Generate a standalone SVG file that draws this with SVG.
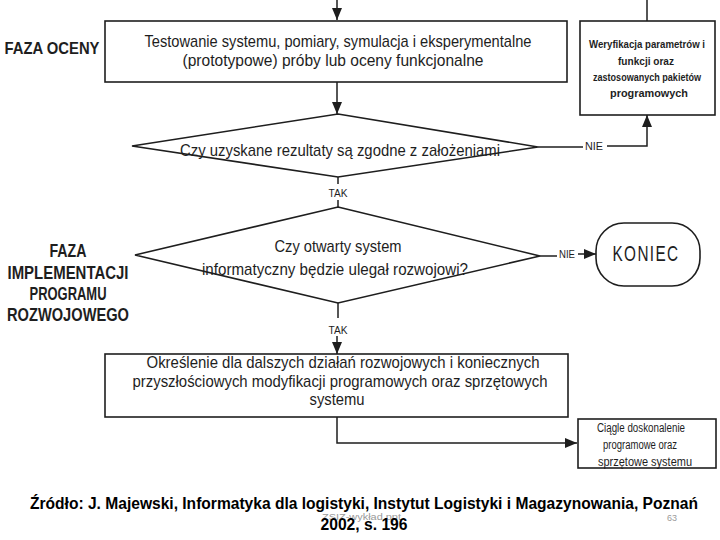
<svg xmlns="http://www.w3.org/2000/svg" width="720" height="540" viewBox="0 0 720 540">
<style>
.bg{fill:#fff}
.box{fill:#fff;stroke:#1e1e1e;stroke-width:1.6}
.ln{fill:none;stroke:#1e1e1e;stroke-width:1.5}
.t{font-family:"Liberation Sans",Arial,sans-serif;fill:#1e1e1e;text-anchor:middle}
.m{font-size:17px}
.s{font-size:11px;font-weight:bold}
.r{font-size:12px}
.l{font-size:11px}
.ph{font-size:18px;font-weight:bold}
.ft{font-family:"Liberation Sans",Arial,sans-serif;font-size:16px;font-weight:bold;fill:#000;text-anchor:middle}
.gr{font-family:"Liberation Sans",Arial,sans-serif;font-size:9px;fill:#9a9a9a}
</style>
<defs>
<marker id="ah" viewBox="0 0 12 10" refX="12" refY="5" markerWidth="12" markerHeight="10" markerUnits="userSpaceOnUse" orient="auto">
<path d="M0,0 L12,5 L0,10 z" fill="#1e1e1e"/>
</marker>
</defs>
<rect class="bg" x="0" y="0" width="720" height="540"/>

<g id="phase-ocena">
<text class="t ph" x="52" y="54" style="font-size:16.5px" textLength="95" lengthAdjust="spacingAndGlyphs">FAZA OCENY</text>
</g>
<g id="phase-impl">
<text class="t ph" x="68" y="257" textLength="37" lengthAdjust="spacingAndGlyphs">FAZA</text>
<text class="t ph" x="68" y="279" textLength="121" lengthAdjust="spacingAndGlyphs">IMPLEMENTACJI</text>
<text class="t ph" x="68" y="300" textLength="77" lengthAdjust="spacingAndGlyphs">PROGRAMU</text>
<text class="t ph" x="68" y="321" textLength="122" lengthAdjust="spacingAndGlyphs">ROZWOJOWEGO</text>
</g>

<g id="connectors">
<path class="ln" d="M337,0 V20" marker-end="url(#ah)"/>
<path class="ln" d="M647,0 V21"/>
<path class="ln" d="M337,82 V114" marker-end="url(#ah)"/>
<path class="ln" d="M338,177 V184"/>
<path class="ln" d="M338,200 V207"/>
<path class="ln" d="M538,147 H583"/>
<path class="ln" d="M607,146 H647 V115" marker-end="url(#ah)"/>
<path class="ln" d="M540,256 H557"/>
<path class="ln" d="M578,254 H596" marker-end="url(#ah)"/>
<path class="ln" d="M338,303 V318"/>
<path class="ln" d="M337,336 V354" marker-end="url(#ah)"/>
<path class="ln" d="M337,417 V443 H577" marker-end="url(#ah)"/>
<text class="t l" x="338" y="197" textLength="19" lengthAdjust="spacingAndGlyphs">TAK</text>
<text class="t l" x="338" y="334" textLength="19" lengthAdjust="spacingAndGlyphs">TAK</text>
<text class="t l" x="594" y="150" textLength="18" lengthAdjust="spacingAndGlyphs">NIE</text>
<text class="t l" x="567" y="258" textLength="16" lengthAdjust="spacingAndGlyphs">NIE</text>
</g>

<g id="test-box">
<rect class="box" x="105" y="21" width="462" height="61"/>
<text class="t m" x="338" y="47" textLength="387" lengthAdjust="spacingAndGlyphs">Testowanie systemu, pomiary, symulacja i eksperymentalne</text>
<text class="t m" x="333" y="66" textLength="301" lengthAdjust="spacingAndGlyphs">(prototypowe) próby lub oceny funkcjonalne</text>
</g>

<g id="verify-box">
<rect class="box" x="580" y="21" width="135" height="94"/>
<text class="t s" x="647" y="48" textLength="116" lengthAdjust="spacingAndGlyphs">Weryfikacja parametrów i</text>
<text class="t s" x="646" y="65" textLength="56" lengthAdjust="spacingAndGlyphs">funkcji oraz</text>
<text class="t s" x="647" y="81" style="font-size:10.5px" textLength="108" lengthAdjust="spacingAndGlyphs">zastosowanych pakietów</text>
<text class="t s" x="649" y="97" textLength="78" lengthAdjust="spacingAndGlyphs">programowych</text>
</g>

<g id="decision-1">
<polygon class="box" points="338,114 538,147 338,177 132,146"/>
<text class="t m" x="340" y="156" textLength="320" lengthAdjust="spacingAndGlyphs">Czy uzyskane rezultaty są zgodne z założeniami</text>
</g>

<g id="decision-2">
<polygon class="box" points="338,207 540,256 338,303 135,255"/>
<text class="t m" x="338" y="252" textLength="127" lengthAdjust="spacingAndGlyphs">Czy otwarty system</text>
<text class="t m" x="335" y="275" textLength="266" lengthAdjust="spacingAndGlyphs">informatyczny będzie ulegał rozwojowi?</text>
</g>

<g id="koniec">
<rect class="box" x="596" y="223" width="104" height="63" rx="28" ry="28"/>
<text class="t" x="646" y="261" style="font-size:22px;letter-spacing:2px" textLength="67" lengthAdjust="spacingAndGlyphs">KONIEC</text>
</g>

<g id="future-box">
<rect class="box" x="105" y="354" width="463" height="63"/>
<text class="t m" x="343" y="368" textLength="393" lengthAdjust="spacingAndGlyphs">Określenie dla dalszych działań rozwojowych i koniecznych</text>
<text class="t m" x="340" y="387" textLength="415" lengthAdjust="spacingAndGlyphs">przyszłościowych modyfikacji programowych oraz sprzętowych</text>
<text class="t m" x="337" y="405" textLength="55" lengthAdjust="spacingAndGlyphs">systemu</text>
</g>

<g id="improve-box">
<rect class="box" x="578" y="419" width="138" height="49"/>
<text class="t r" x="641" y="432" textLength="88" lengthAdjust="spacingAndGlyphs">Ciągle doskonalenie</text>
<text class="t r" x="640" y="449" textLength="74" lengthAdjust="spacingAndGlyphs">programowe oraz</text>
<text class="t r" x="645" y="466" textLength="94" lengthAdjust="spacingAndGlyphs">sprzętowe systemu</text>
</g>

<g id="footer">
<text class="gr" x="322" y="520" textLength="79" lengthAdjust="spacingAndGlyphs">ZSIZ-wykład.ppt</text>
<text class="gr" x="667" y="521" textLength="10" lengthAdjust="spacingAndGlyphs">63</text>
<text class="ft" x="364" y="509" textLength="668" lengthAdjust="spacingAndGlyphs">Źródło: J. Majewski, Informatyka dla logistyki, Instytut Logistyki i Magazynowania, Poznań</text>
<text class="ft" x="364" y="530" textLength="87" lengthAdjust="spacingAndGlyphs">2002, s. 196</text>
</g>
</svg>
